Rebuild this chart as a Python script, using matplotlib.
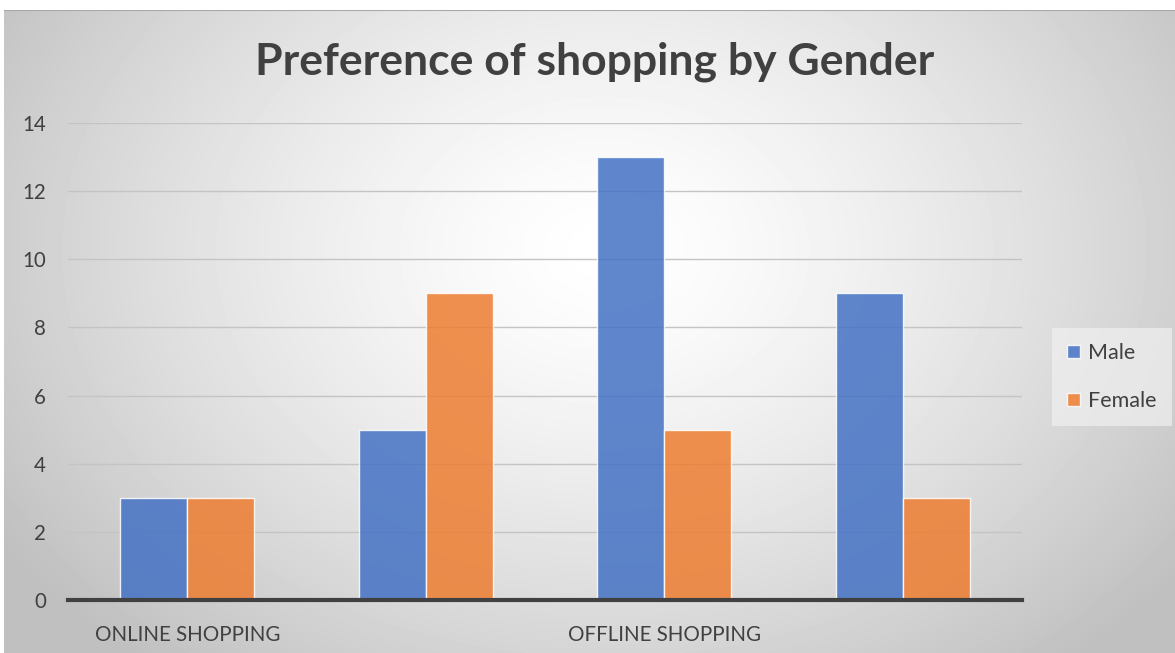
import numpy as np
import matplotlib
matplotlib.use('Agg')
import matplotlib.pyplot as plt

plt.rcParams['font.family'] = ['Lato', 'DejaVu Sans']

# ── data ─────────────────────────
tick_labels = ["ONLINE SHOPPING", "", "OFFLINE SHOPPING", ""]
male   = [3, 5, 13, 9]
female = [3, 9, 5, 3]

W, H = 1175, 653
fig = plt.figure(figsize=(W / 100, H / 100), dpi=100)
fig.patch.set_facecolor('white')

# radial grey-to-white backdrop behind the whole chart
bg = fig.add_axes([4 / W, 0, 1 - 4 / W, 1 - 10 / H])
yy, xx = np.mgrid[0:643, 0:1171]
dx = (xx - 600) / 720
dy = (yy - 240) / 540
r = np.clip(np.sqrt(dx**2 + dy**2), 0, 1)
shade = 1.0 - 0.25 * r**1.4
bg.imshow(shade, cmap='gray', vmin=0, vmax=1, aspect='auto',
          interpolation='bilinear', extent=[0, 1, 0, 1], origin='upper')
bg.axhline(1, color='#a8a8a8', lw=1.5)
bg.set_axis_off()

# plot area
ax = fig.add_axes([68 / W, (H - 600) / H, (1022 - 68) / W, (600 - 123) / H])
ax.patch.set_alpha(0)
x = np.arange(len(tick_labels))
w = 0.28
ax.bar(x - w / 2, male, w, color='#4472C4', alpha=0.85,
       edgecolor='white', linewidth=1, label='Male', zorder=3)
ax.bar(x + w / 2, female, w, color='#ED7D31', alpha=0.85,
       edgecolor='white', linewidth=1, label='Female', zorder=3)

ax.set_xlim(-0.5, 3.5)
ax.set_ylim(0, 14)
ax.set_yticks(range(0, 15, 2))
ax.yaxis.grid(True, color='#c4c4c4', linewidth=1, zorder=0)
ax.set_axisbelow(True)
for s in ['top', 'right', 'left']:
    ax.spines[s].set_visible(False)
ax.spines['bottom'].set_color('#404040')
ax.spines['bottom'].set_linewidth(3)
ax.spines['bottom'].set_zorder(4)
ax.tick_params(axis='both', length=0, labelsize=14.8, colors='#404040')
ax.tick_params(axis='y', pad=16)
ax.tick_params(axis='x', pad=18)
ax.set_xticks(x)
ax.set_xticklabels(tick_labels)

fig.text(0.506, 1 - 62 / H, "Preference of shopping by Gender",
         ha='center', va='center', fontsize=32, fontweight='bold',
         color='#404040')

leg = ax.legend(loc='center left', bbox_to_anchor=(1.02, 0.467),
                fontsize=15.5, frameon=True, fancybox=False,
                handlelength=0.6, handleheight=0.6, handletextpad=0.4,
                labelspacing=1.3, borderpad=0.7, labelcolor='#404040')
leg.get_frame().set_facecolor('#f0f0f0')
leg.get_frame().set_alpha(0.7)
leg.get_frame().set_edgecolor('none')

fig.savefig("out.png", dpi=100, facecolor='white')
